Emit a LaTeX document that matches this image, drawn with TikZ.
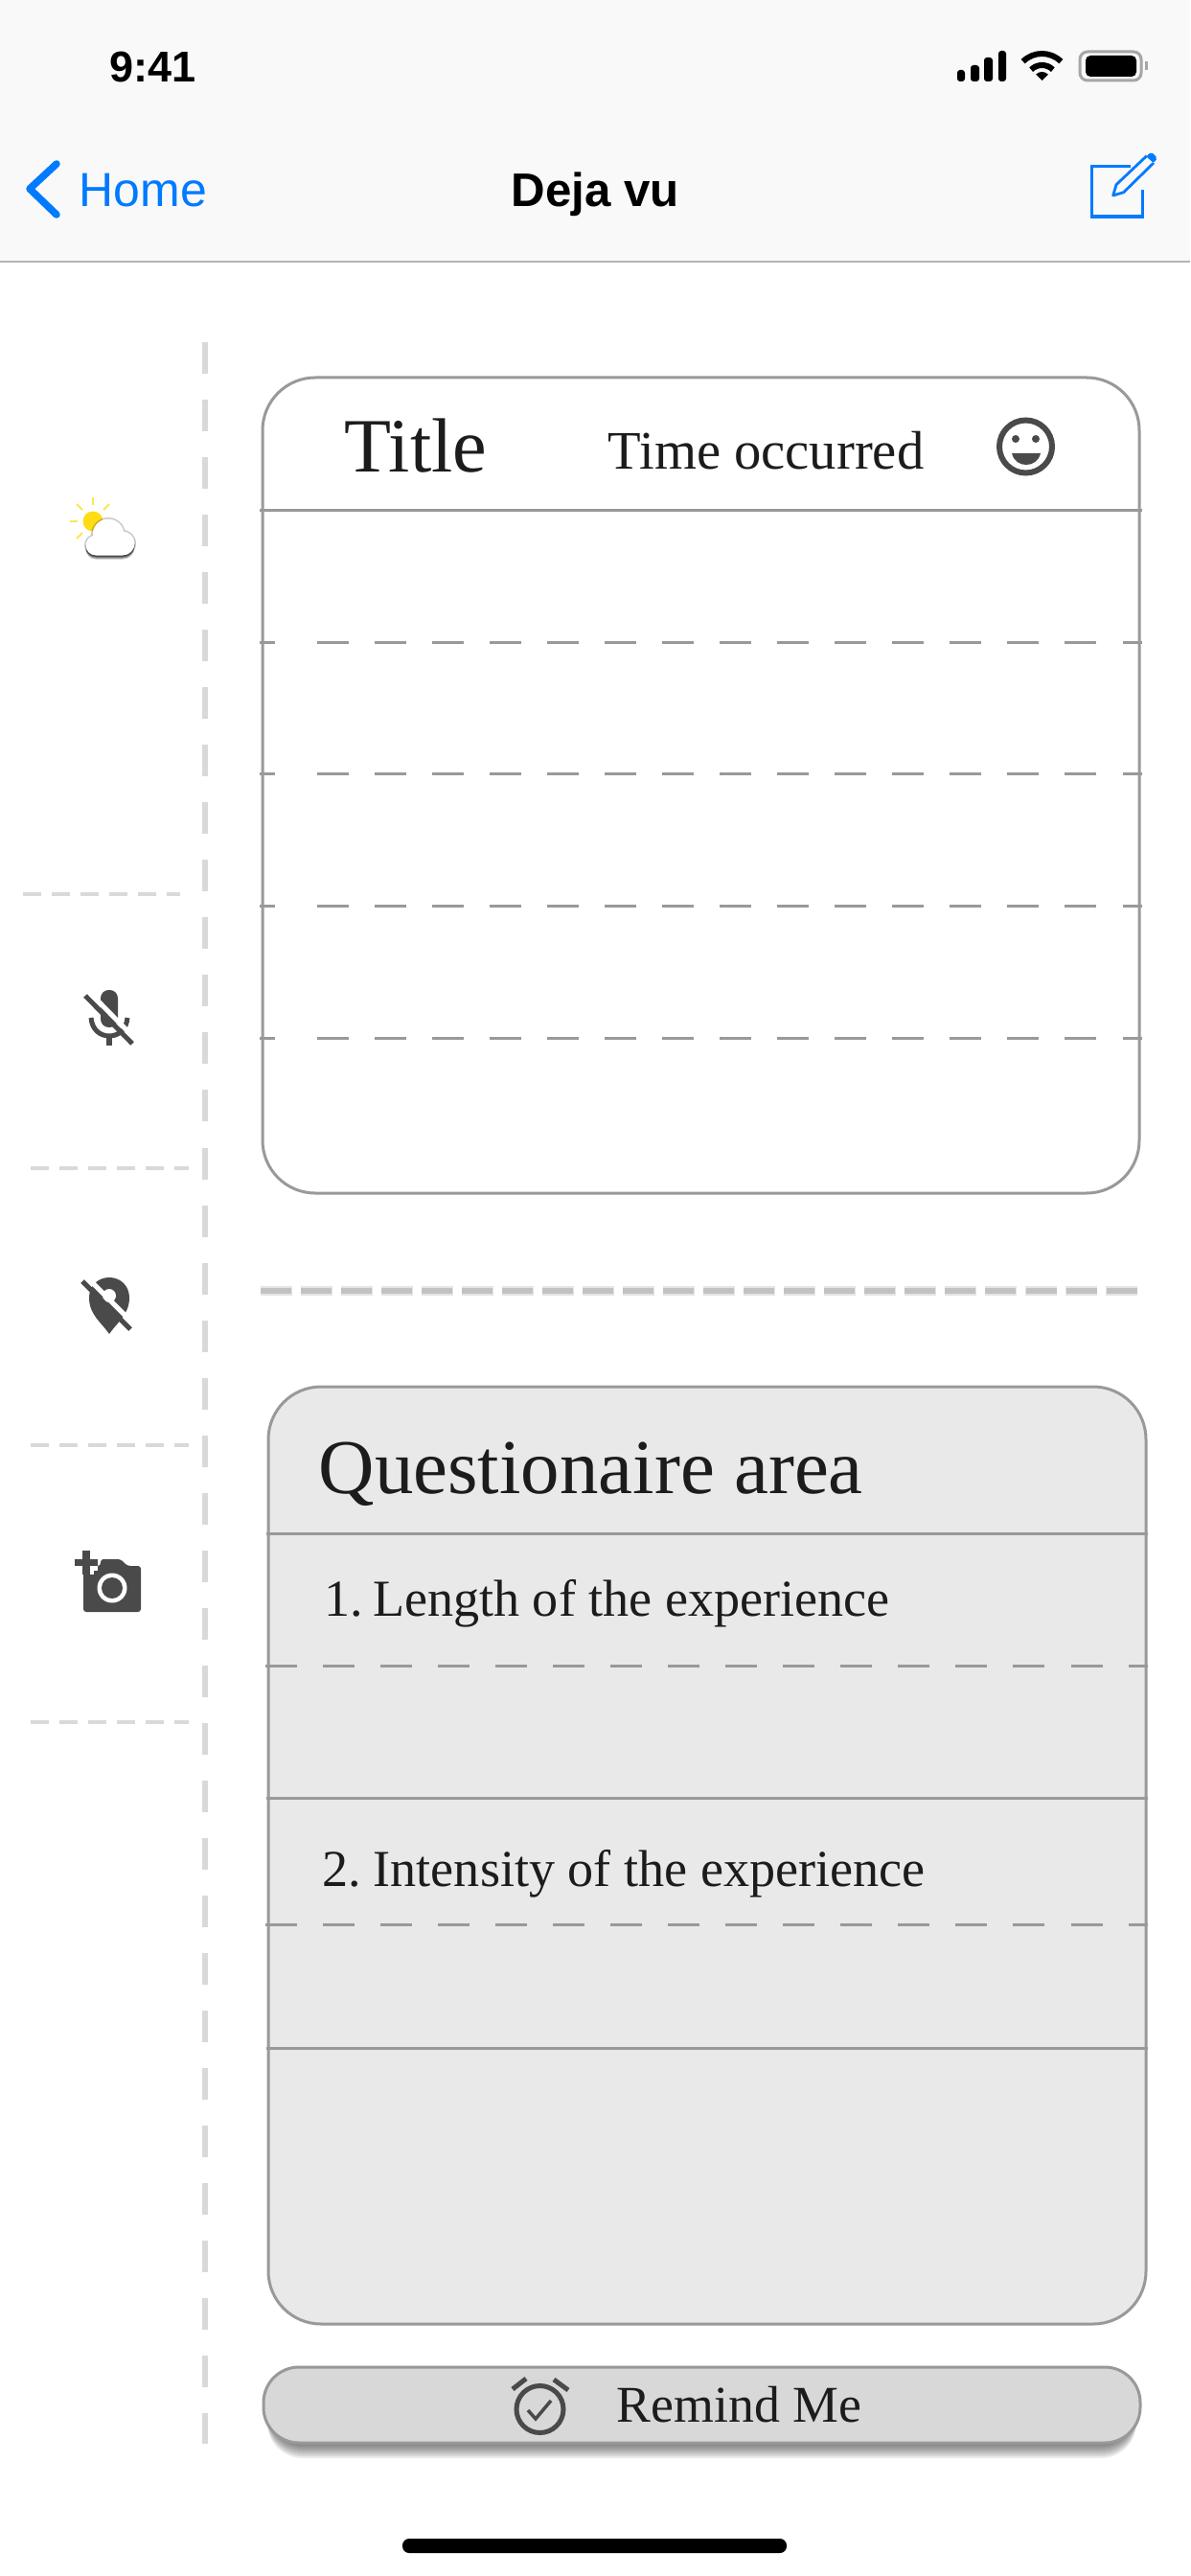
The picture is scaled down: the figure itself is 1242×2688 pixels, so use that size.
\documentclass[tikz,border=0pt]{standalone}
\usepackage{fontspec}
\setmainfont{Liberation Serif}
\newfontfamily\navfont{Liberation Sans}

\definecolor{navbg}{HTML}{F9F9F9}
\definecolor{navline}{HTML}{B4B4B4}
\definecolor{iosblue}{HTML}{007AFF}
\definecolor{rulegray}{HTML}{999999}
\definecolor{sidegray}{HTML}{D9D9D9}
\definecolor{cardgray}{HTML}{E9E9E9}
\definecolor{btngray}{HTML}{D8D8D8}
\definecolor{icondark}{HTML}{4A4A4A}
\definecolor{inkdark}{HTML}{1C1C1C}
\definecolor{sunyellow}{HTML}{FFDD15}

\tikzset{
  navtext/.style={inner sep=0pt, anchor=base west, font=\navfont},
  cardtext/.style={inner sep=0pt, anchor=base west, text=inkdark},
  card/.style={draw=rulegray, line width=.03cm, rounded corners=.55cm},
  cardrule/.style={draw=rulegray, line width=.03cm},
  carddash/.style={cardrule, dash pattern=on .33cm off .27cm},
  sidedash/.style={draw=sidegray, line width=.065cm, dash pattern=on .33cm off .27cm},
  rowdash/.style={draw=sidegray, line width=.04cm, dash pattern=on .19cm off .11cm},
  icon/.style={fill=icondark, draw=none}
}

\begin{document}
\begin{tikzpicture}[x=.01cm, y=-.01cm]
  \useasboundingbox (0,0) rectangle (1242,2688);
  \fill [white] (0,0) rectangle (1242,2688);

  % top bar
  \fill [navbg] (0,0) rectangle (1242,273);
  \draw [navline, line width=.025cm] (0,273) -- (1242,273);
  \node (clock) [navtext, font=\navfont\bfseries\fontsize{12.8pt}{14pt}\selectfont] at (114,86) {9:41};
  \node (home) [navtext, text=iosblue, font=\navfont\fontsize{14.2pt}{16pt}\selectfont] at (82,216) {Home};
  \node (screen) [navtext, font=\navfont\bfseries\fontsize{14pt}{16pt}\selectfont] at (533,216) {Deja vu};
  \draw [iosblue, line width=.075cm, line cap=round, line join=round] (59,171) -- (31,197) -- (59,224);
  \foreach \xa/\xb/\ya in {999/1007/73, 1013/1022/68, 1027/1036/60, 1042/1050/53}
    \fill [black, rounded corners=.03cm] (\xa,\ya) rectangle (\xb,85);
  \begin{scope}[y=.01cm, shift={(1087.5,-84)}]
    \draw [black, line width=.06cm] (45:28) arc (45:135:28);
    \draw [black, line width=.06cm] (45:16) arc (45:135:16);
    \fill [black] (0,0) -- (45:9) arc (45:135:9) -- cycle;
  \end{scope}
  \draw [draw=black!35, line width=.03cm, rounded corners=.08cm] (1127,54) rectangle (1191,84);
  \fill [black, rounded corners=.05cm] (1133,58) rectangle (1186,80);
  \fill [black!35] (1195,64) rectangle (1198,73);
  % compose icon
  \draw [iosblue, line width=.035cm] (1180,173.5) -- (1139.5,173.5) -- (1139.5,226) -- (1192.5,226) -- (1192.5,198);
  \draw [iosblue, line width=.028cm, line join=round] (1196.7,162.7) -- (1165,192.7) -- (1161.7,204) -- (1172.7,200.7) -- (1204,170);
  \fill [iosblue, rounded corners=.02cm] (1196,163.3) -- (1201.7,158.5) -- (1208,165) -- (1204,170) -- cycle;

  % side column
  \draw [sidedash] (214,357) -- (214,2550);
  \draw [rowdash] (24,933) -- (188,933);
  \foreach \y in {1219,1508,1797}
    \draw [rowdash] (32,\y) -- (197,\y);

  % weather icon
  \fill [sunyellow] (97,544) circle (10.5);
  \draw [sunyellow!75, line width=.02cm] (97,519) -- (97,527);
  \draw [sunyellow!75, line width=.02cm] (80,526) -- (86,532);
  \draw [sunyellow!75, line width=.02cm] (108,532) -- (114,526);
  \draw [sunyellow!75, line width=.02cm] (73,544) -- (81,544);
  \draw [sunyellow!75, line width=.02cm] (80,562) -- (86,556);
  \fill [black, opacity=.22] (100,569) circle (12) (113,558) circle (18)
      (128,567) circle (14) (128,560) rectangle (100,581);
  \foreach \d in {1,2,3,4}
    \fill [black, opacity=.24, shift={(0,\d)}] (100,569) circle (10.5) (113,558) circle (16.5)
      (128,567) circle (12.5) (128,560) rectangle (100,579.5);
  \fill [white] (100,569) circle (10.5) (113,558) circle (16.5)
      (128,567) circle (12.5) (128,560) rectangle (100,579.5);

  % mic icon
  \fill [icon, rounded corners=.085cm] (105,1033) rectangle (123,1072);
  \draw [icondark, line width=.05cm] (95,1062) .. controls (96,1074) and (104,1081) .. (114,1081)
    .. controls (124,1081) and (132,1074) .. (133,1062);
  \fill [icon] (110.7,1081) rectangle (117.3,1091);
  \draw [white, line width=.05cm] (92,1034) -- (142,1085);
  \draw [icondark, line width=.05cm] (89,1039) -- (138,1089);

  % pin icon
  \fill [icon] (114,1392) .. controls (106,1380) and (93,1372) .. (93,1354)
    .. controls (93,1342) and (102,1333) .. (114,1333)
    .. controls (126,1333) and (135,1342) .. (135,1354)
    .. controls (135,1372) and (122,1380) .. (114,1392) -- cycle;
  \fill [white] (114,1352) circle (7);
  \draw [white, line width=.05cm] (90,1332) -- (140,1382);
  \draw [icondark, line width=.05cm] (86,1337) -- (136,1387);

  % camera icon
  \fill [icon, rounded corners=.03cm] (87,1634) -- (105,1634) -- (105,1627) -- (126,1627) -- (133,1634)
    -- (147,1634) -- (147,1682) -- (87,1682) -- cycle;
  \draw [white, line width=.16cm] (78,1630.5) -- (102,1630.5) (90,1618) -- (90,1643);
  \draw [icondark, line width=.07cm] (78,1630.5) -- (102,1630.5) (90,1618) -- (90,1643);
  \fill [white] (117,1657) circle (15.5);
  \fill [icondark] (117,1657) circle (11);

  % first card
  \draw [card] (274,394) rectangle (1189,1245);
  \draw [cardrule] (271,532) -- (1192,532);
  \foreach \y in {670,807,945,1083} {
    \draw [cardrule] (271,\y) -- (287,\y);
    \draw [carddash] (331,\y) -- (1192,\y);
  }
  \node (title) [cardtext, font=\fontsize{22.8pt}{24pt}\selectfont] at (359,492) {Title};
  \node (occurred) [cardtext, font=\fontsize{16.1pt}{18pt}\selectfont] at (634,489) {Time occurred};
  \draw [icondark, line width=.06cm] (1070.5,466) circle (27.5);
  \fill [icondark] (1060,458) circle (4) (1081,458) circle (4);
  \fill [icondark] (1056,473) -- (1086,473) .. controls (1084,481) and (1078,485) .. (1071,485)
    .. controls (1064,485) and (1058,481) .. (1056,473) -- cycle;

  % wide separator
  \draw [draw=black!10, line width=.095cm, dash pattern=on .33cm off .09cm] (271.5,1347) -- (1187.5,1347);
  \draw [draw=black!24, line width=.06cm, dash pattern=on .32cm off .10cm] (272,1347) -- (1187,1347);

  % questionnaire card
  \draw [card, fill=cardgray] (280,1447) rectangle (1196,2425);
  \foreach \y in {1600,1876,2137}
    \draw [cardrule] (278,\y) -- (1198,\y);
  \foreach \y in {1738,2008}
    \draw [carddash] (277,\y) -- (1198,\y);
  \node (quest) [cardtext, font=\fontsize{23pt}{25pt}\selectfont] at (332,1558) {Questionaire area};
  \node (lengthq) [cardtext, font=\fontsize{15.4pt}{18pt}\selectfont] at (338,1686) {1.\hspace{.18em}Length of the experience};
  \node (intensq) [cardtext, font=\fontsize{15.4pt}{18pt}\selectfont] at (336,1968) {2.\hspace{.23em}Intensity of the experience};

  % remind button
  \foreach \d in {1,...,8}
    \fill [black, opacity=.08, rounded corners=.37cm] (279,2480) rectangle (1186,{2549+2*\d});
  \draw [draw=rulegray, fill=btngray, line width=.03cm, rounded corners=.37cm] (275,2470) rectangle (1190,2549);
  \draw [icondark, line width=.05cm] (563.5,2514) circle (24.5);
  \draw [icondark, line width=.05cm] (535,2493) -- (549,2482);
  \draw [icondark, line width=.05cm] (578,2483) -- (593,2494);
  \draw [icondark, line width=.035cm] (551,2515) -- (559,2524) -- (575,2505);
  \node (remind) [cardtext, font=\fontsize{15.3pt}{18pt}\selectfont] at (643,2527) {Remind Me};

  % home bar
  \fill [black, rounded corners=.07cm] (420,2649) rectangle (821,2664);
\end{tikzpicture}
\end{document}
